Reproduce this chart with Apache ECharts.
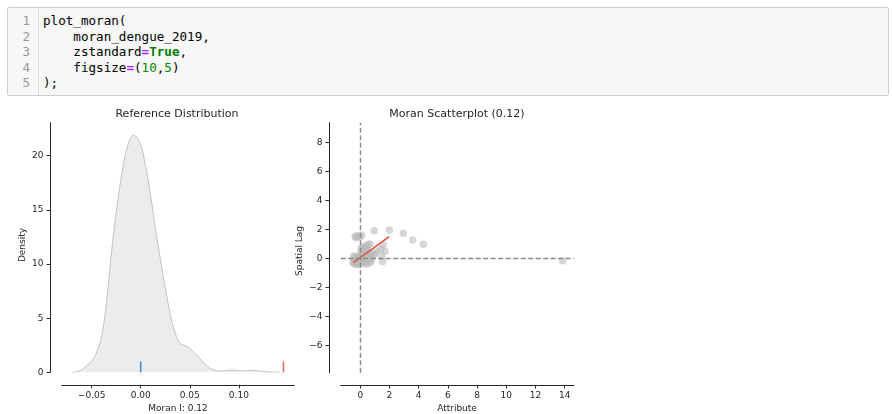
<!DOCTYPE html>
<html>
<head>
<meta charset="utf-8">
<script src="https://cdn.jsdelivr.net/npm/echarts@6/dist/echarts.min.js"></script>
<style>
  html, body { margin: 0; padding: 0; background: #fff; }
  #chart { position: absolute; left: 0; top: 0; width: 892px; height: 414px; }
  #cell { position: absolute; left: 7px; top: 7px; width: 882px; height: 89px;
          background: #f7f7f7; border: 1px solid #cfcfcf; border-radius: 2px; box-sizing: border-box;
          font-family: "DejaVu Sans Mono", monospace; font-size: 12.6px; line-height: 15.5px; }
  #gutter { position: absolute; left: 0; top: 0; width: 31px; height: 100%; border-right: 1px solid #ddd;
            color: #999; text-align: right; padding-top: 5px; box-sizing: border-box; }
  #gutter div { padding-right: 8px; }
  #code { position: absolute; left: 35px; top: 0; padding-top: 5px; color: #000; white-space: pre; }
  .op { color: #aa22ff; font-weight: bold; }
  .kw { color: #008000; font-weight: bold; }
  .num { color: #008800; }
</style>
</head>
<body>
<div id="chart"></div>
<div id="cell">
  <div id="gutter"><div>1</div><div>2</div><div>3</div><div>4</div><div>5</div></div>
  <div id="code">plot_moran(
    moran_dengue_2019,
    zstandard<span class="op">=</span><span class="kw">True</span>,
    figsize<span class="op">=</span>(<span class="num">10</span>,<span class="num">5</span>)
);</div>
</div>
<script>
// ---- Reference distribution (KDE of simulated Moran's I) ----
const kdeX = [-0.0697, -0.065, -0.0605, -0.0562, -0.052, -0.0478, -0.0445, -0.041, -0.0385, -0.0359, -0.0335, -0.0312, -0.0285, -0.0257, -0.023, -0.0206, -0.018, -0.0156, -0.013, -0.0105, -0.0077, -0.005, -0.0025, -0.0003, 0.0025, 0.0048, 0.0075, 0.0099, 0.0125, 0.0149, 0.0175, 0.020, 0.0225, 0.0251, 0.0277, 0.0302, 0.0328, 0.0353, 0.0378, 0.0403, 0.0428, 0.0454, 0.048, 0.0505, 0.053, 0.0555, 0.058, 0.0608, 0.0635, 0.066, 0.0685, 0.0708, 0.0742, 0.0775, 0.081, 0.085, 0.09, 0.095, 0.1, 0.105, 0.109, 0.113, 0.118, 0.124, 0.13, 0.137, 0.142];
const kdeY = [0, 0.06, 0.22, 0.52, 0.85, 1.3, 1.95, 2.85, 4.0, 5.6, 7.6, 9.8, 12.1, 14.3, 16.1, 17.6, 19.0, 20.1, 21.0, 21.6, 21.9, 21.8, 21.5, 21.1, 20.2, 19.1, 17.8, 16.4, 14.9, 13.3, 11.9, 10.5, 9.1, 7.76, 6.5, 5.3, 4.35, 3.6, 3.0, 2.68, 2.55, 2.46, 2.35, 2.15, 1.95, 1.72, 1.5, 1.22, 0.95, 0.7, 0.5, 0.36, 0.22, 0.14, 0.11, 0.14, 0.2, 0.2, 0.14, 0.13, 0.18, 0.2, 0.15, 0.08, 0.04, 0.02, 0];
const moranI = 0.1455;   // position of the observed statistic line (as drawn)
const expectedI = 0.0;   // position of the expected value line (as drawn)
const refXTicks = [-0.05, 0.00, 0.05, 0.10];
const refYTicks = [0, 5, 10, 15, 20];

// ---- Moran scatterplot ----
const attribute = [0.96, 1.99, 2.95, 3.59, 4.32, 13.86,
  -0.35, -0.2, -0.05, 0.1, -0.28,
  0.66, 0.55, 0.39, 1.58, 1.69, 1.4, 1.12, 0.89, 1.47, 1.53, 1.0,
  -0.5, -0.45, -0.4, -0.35, -0.3, -0.3, -0.25, -0.2, -0.2, -0.15, -0.1, -0.1, -0.05, 0.0, 0.0,
  0.05, 0.1, 0.1, 0.15, 0.2, 0.2, 0.25, 0.3, 0.3, 0.35, 0.4, 0.45, 0.5, 0.55, 0.6, 0.65, 0.7,
  0.75, 0.8, -0.45, -0.4, 0.05, 0.25, 0.45, -0.15, 0.12, -0.38, 0.02];
const spatialLag = [1.90, 1.95, 1.72, 1.26, 0.97, -0.17,
  1.50, 1.55, 1.45, 1.58, 1.42,
  0.99, 0.95, 0.76, 0.92, 0.46, 0.62, 0.46, 0.23, 0.11, -0.23, 0.30,
  -0.3, -0.1, -0.4, -0.2, 0.0, -0.35, -0.15, 0.1, -0.4, -0.25, 0.05, -0.45, -0.1, 0.2, -0.3,
  0.4, -0.2, 0.1, 0.6, -0.35, 0.3, -0.05, 0.55, -0.25, 0.15, -0.4, 0.3, -0.1, 0.45, -0.35, 0.1, 0.35,
  -0.2, 0.0, 0.15, 0.05, 0.7, 0.85, 0.65, -0.05, -0.1, -0.3, 0.0];
const fitX = [-0.48, 1.99];
const fitY = [-0.30, 1.49];
const scatXTicks = [0, 2, 4, 6, 8, 10, 12, 14];
const scatYTicks = [-6, -4, -2, 0, 2, 4, 6, 8];

const FONT = 'DejaVu Sans';
const INK = '#262626';
const minus = s => s.replace('-', '\u2212');

function axisCommon(ticks, fmt) {
  return {
    axisLine: { show: true, onZero: false, lineStyle: { color: INK, width: 1 } },
    axisTick: { show: true, length: 3.5, customValues: ticks, lineStyle: { color: INK, width: 1 } },
    axisLabel: { show: true, customValues: ticks, margin: 6.5, fontFamily: FONT, fontSize: 9, color: INK, formatter: fmt },
    splitLine: { show: false }
  };
}

const chart = echarts.init(document.getElementById('chart'), null, { renderer: 'canvas' });
chart.setOption({
  animation: false,
  backgroundColor: '#fff',
  grid: [
    { left: 61.7, top: 122.7, width: 232.6, height: 249.6 },
    { left: 340.7, top: 122.7, width: 233.3, height: 250 }
  ],
  xAxis: [
    Object.assign({ type: 'value', gridIndex: 0, min: -0.0805, max: 0.1565, position: 'bottom', offset: 12.5 },
      axisCommon(refXTicks, v => minus(Number(v).toFixed(2)))),
    Object.assign({ type: 'value', gridIndex: 1, min: -1.34, max: 14.64, position: 'bottom', offset: 12.3 },
      axisCommon(scatXTicks, v => minus(String(Math.round(v)))))
  ],
  yAxis: [
    Object.assign({ type: 'value', gridIndex: 0, min: 0, max: 23.05, position: 'left', offset: 11.7 },
      axisCommon(refYTicks, v => String(Math.round(v)))),
    Object.assign({ type: 'value', gridIndex: 1, min: -7.89, max: 9.35, position: 'left', offset: 11.7 },
      axisCommon(scatYTicks, v => minus(String(Math.round(v)))))
  ],
  graphic: [
    { type: 'text', x: 177, y: 114, style: { text: 'Reference Distribution', font: '11px "DejaVu Sans"', fill: INK, textAlign: 'center', textVerticalAlign: 'middle' } },
    { type: 'text', x: 457, y: 114, style: { text: 'Moran Scatterplot (0.12)', font: '11px "DejaVu Sans"', fill: INK, textAlign: 'center', textVerticalAlign: 'middle' } },
    { type: 'text', x: 178, y: 408.5, style: { text: 'Moran I: 0.12', font: '9px "DejaVu Sans"', fill: INK, textAlign: 'center', textVerticalAlign: 'middle' } },
    { type: 'text', x: 457, y: 408.5, style: { text: 'Attribute', font: '9px "DejaVu Sans"', fill: INK, textAlign: 'center', textVerticalAlign: 'middle' } },
    { type: 'text', x: 22.5, y: 245, rotation: Math.PI / 2, style: { text: 'Density', font: '9px "DejaVu Sans"', fill: INK, textAlign: 'center', textVerticalAlign: 'middle' } },
    { type: 'text', x: 300, y: 251, rotation: Math.PI / 2, style: { text: 'Spatial Lag', font: '9px "DejaVu Sans"', fill: INK, textAlign: 'center', textVerticalAlign: 'middle' } }
  ],
  series: [
    {
      type: 'line', xAxisIndex: 0, yAxisIndex: 0, smooth: 0.35, symbol: 'none',
      data: kdeX.map((x, i) => [x, kdeY[i]]),
      lineStyle: { color: '#c2c2c2', width: 1 },
      areaStyle: { color: '#ececec', opacity: 1 }
    },
    {
      type: 'line', xAxisIndex: 0, yAxisIndex: 0, symbol: 'none',
      data: [[expectedI, 0], [expectedI, 1]],
      lineStyle: { color: '#3f8fd2', width: 1.6 }
    },
    {
      type: 'line', xAxisIndex: 0, yAxisIndex: 0, symbol: 'none',
      data: [[moranI, 0], [moranI, 1]],
      lineStyle: { color: '#ee6a62', width: 1.6 }
    },
    {
      type: 'scatter', xAxisIndex: 1, yAxisIndex: 1, symbolSize: 7.5,
      data: attribute.map((x, i) => [x, spatialLag[i]]),
      itemStyle: { color: '#bababa', opacity: 0.6 },
      markLine: {
        silent: true, symbol: 'none', label: { show: false },
        lineStyle: { color: '#8a8a8a', type: [5, 2.5], width: 1.4 },
        data: [{ xAxis: 0 }, { yAxis: 0 }]
      }
    },
    {
      type: 'line', xAxisIndex: 1, yAxisIndex: 1, symbol: 'none',
      data: fitX.map((x, i) => [x, fitY[i]]),
      lineStyle: { color: '#e0503f', width: 1.5 }
    }
  ]
});
</script>
</body>
</html>
